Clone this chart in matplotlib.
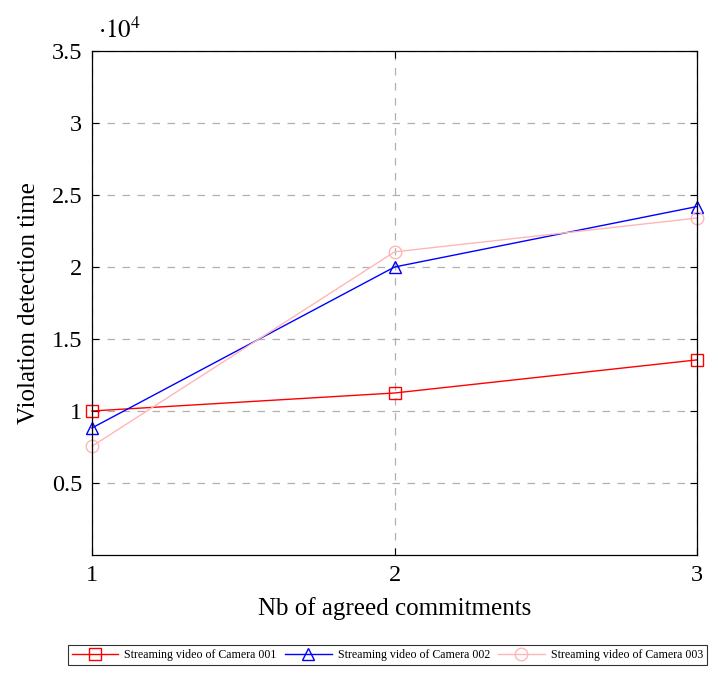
import matplotlib.pyplot as plt
import numpy as np

plt.rcParams['font.family'] = ['Liberation Serif', 'DejaVu Serif']
plt.rcParams['mathtext.fontset'] = 'stix'

# Data
commitments = [1, 2, 3]
cam001 = [10000, 11250, 13550]
cam002 = [8820, 20000, 24200]
cam003 = [7550, 21050, 23400]

fig = plt.figure(figsize=(7.24, 6.89), dpi=100)
ax = fig.add_axes([0.127, 0.1945, 0.836, 0.7315])

ax.plot(commitments, cam001, '-', color='red', marker='s', markersize=9,
        markerfacecolor='none', markeredgecolor='red', lw=1.0, clip_on=False,
        label='Streaming video of Camera 001')
ax.plot(commitments, cam002, '-', color='blue', marker='^', markersize=9,
        markerfacecolor='none', markeredgecolor='blue', lw=1.0, clip_on=False,
        label='Streaming video of Camera 002')
ax.plot(commitments, cam003, '-', color='#ffb6b6', marker='o', markersize=9,
        markerfacecolor='none', markeredgecolor='#ffb6b6', lw=1.0, clip_on=False,
        label='Streaming video of Camera 003')

ax.set_xlim(1, 3)
ax.set_ylim(0, 35000)
ax.set_xticks([1, 2, 3])
ax.set_xticklabels(['1', '2', '3'])
yt = [5000, 10000, 15000, 20000, 25000, 30000, 35000]
ax.set_yticks(yt)
ax.set_yticklabels(['0.5', '1', '1.5', '2', '2.5', '3', '3.5'])
ax.tick_params(direction='in', labelsize=17.5, top=True, right=True, length=5, pad=7)
ax.grid(True, linestyle=(0, (6, 6)), color='#b0b0b0', lw=0.9)
for s in ax.spines.values():
    s.set_linewidth(0.9)

ax.text(0.01, 1.015, r'$\cdot 10^{4}$', transform=ax.transAxes, fontsize=18,
        ha='left', va='bottom')

ax.set_xlabel('Nb of agreed commitments', fontsize=18, labelpad=8)
ax.set_ylabel('Violation detection time', fontsize=18, labelpad=8)

leg = fig.legend(loc='center', bbox_to_anchor=(0.535, 0.049), ncol=3,
                 fontsize=8.6, frameon=True, fancybox=False, edgecolor='black',
                 handlelength=3.9, columnspacing=0.7, handletextpad=0.5,
                 borderpad=0.35, borderaxespad=0.3, markerscale=1.0)
leg.get_frame().set_linewidth(0.8)

plt.savefig('out.png', dpi=100)
